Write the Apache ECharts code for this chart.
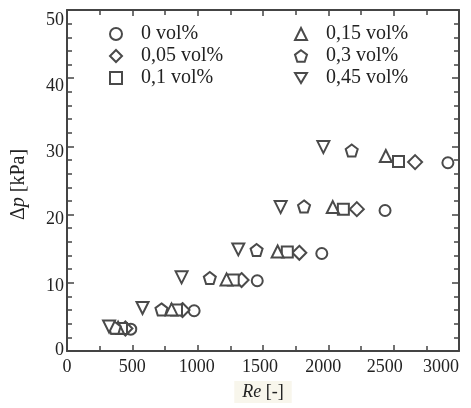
<!DOCTYPE html>
<html>
<head>
<meta charset="utf-8">
<script src="https://cdn.jsdelivr.net/npm/echarts@6/dist/echarts.min.js"></script>
<style>
  html, body { margin: 0; padding: 0; background: #fff; }
  #canvas { width: 471px; height: 408px; }
</style>
</head>
<body>
<div id="canvas"></div>
<script>
// data: Re [-] and Δp [kPa] per concentration
const names = ["0 vol%", "0,05 vol%", "0,1 vol%", "0,15 vol%", "0,3 vol%", "0,45 vol%"];
const re0 = [488, 973, 1456, 1950, 2434, 2915];
const dp0 = [3.2, 5.9, 10.3, 14.3, 20.6, 27.6];
const re005 = [447, 884, 1336, 1778, 2218, 2664];
const dp005 = [3.3, 6.0, 10.4, 14.4, 20.8, 27.7];
const re01 = [417, 838, 1272, 1686, 2115, 2537];
const dp01 = [3.3, 6.0, 10.4, 14.5, 20.8, 27.8];
const re015 = [391, 800, 1221, 1612, 2034, 2440];
const dp015 = [3.4, 6.1, 10.5, 14.6, 21.1, 28.6];
const re03 = [365, 723, 1093, 1451, 1814, 2179];
const dp03 = [3.4, 6.1, 10.7, 14.8, 21.2, 29.4];
const re045 = [322, 578, 877, 1311, 1635, 1962];
const dp045 = [3.6, 6.3, 10.8, 14.9, 21.1, 29.9];

const pentagon = "path://M0,-1 L0.951,-0.309 L0.588,0.809 L-0.588,0.809 L-0.951,-0.309 Z";
const triDown = "path://M-1,-0.8 L1,-0.8 L0,0.9 Z";
const symbols = ["circle", "diamond", "rect", "triangle", pentagon, triDown];
const sizes = [11, 14, 11, 12, 12, 12];
const res = [re0, re005, re01, re015, re03, re045];
const dps = [dp0, dp005, dp01, dp015, dp03, dp045];

const ink = "#444";
const serif = "'Liberation Serif', 'Times New Roman', serif";

// the scanned figure's tick labels sit a little off their ticks
const yShift = { 0: -1, 10: 3, 20: 5, 30: 6, 40: 8, 50: 10 };
const xShift = { 0: 0, 500: 0, 1000: -1, 1500: -3, 2000: -5, 2500: -9, 3000: 0 };

const myChart = window.echarts.init(document.querySelector("#canvas"));

const series = names.map(function (name, i) {
  return {
    name: name,
    type: "scatter",
    symbol: symbols[i],
    symbolSize: sizes[i],
    data: res[i].map(function (x, k) { return [x, dps[i][k]]; }),
    itemStyle: { color: "#fff", borderColor: "#4a4a4a", borderWidth: 2, opacity: 1 }
  };
});

const legendCommon = {
  orient: "vertical",
  itemWidth: 12,
  itemHeight: 12,
  itemGap: 2,
  textStyle: { fontFamily: serif, fontSize: 20, color: "#222", padding: [0, 0, 0, 14] }
};

const tickStyle = { lineStyle: { color: ink, width: 1.5 } };
const labelFont = { fontFamily: serif, fontSize: 18, color: "#222" };

const yRich = {};
Object.keys(yShift).forEach(function (k) {
  const d = yShift[k];
  yRich["y" + k] = Object.assign({ padding: d >= 0 ? [2 * d, 0, 0, 0] : [0, 0, -2 * d, 0] }, labelFont);
});
const xRich = {};
Object.keys(xShift).forEach(function (k) {
  const d = xShift[k];
  xRich["x" + k] = Object.assign({ padding: [0, -2 * d, 0, 0] }, labelFont);
});

myChart.setOption({
  backgroundColor: "#fff",
  animation: false,
  grid: { left: 67, right: 12, top: 10, bottom: 54, containLabel: false },
  legend: [
    Object.assign({ left: 104, top: 19, data: names.slice(0, 3) }, legendCommon),
    Object.assign({ left: 289, top: 19, data: names.slice(3) }, legendCommon)
  ],
  xAxis: [
    {
      type: "value",
      min: 0,
      max: 3000,
      interval: 500,
      name: "{i|Re} [-]",
      nameLocation: "middle",
      nameGap: 30,
      nameTextStyle: {
        fontFamily: serif, fontSize: 18, color: "#222",
        backgroundColor: "#f8f6ec", padding: [2, 8, 2, 8],
        rich: { i: { fontFamily: serif, fontSize: 18, fontStyle: "italic", color: "#222" } }
      },
      axisLine: { show: true, onZero: false, lineStyle: { color: ink, width: 2 } },
      axisTick: Object.assign({ show: true, inside: true, length: 6 }, tickStyle),
      minorTick: { show: true, splitNumber: 2, length: 5, lineStyle: { color: ink, width: 1.5 } },
      splitLine: { show: false },
      axisLabel: Object.assign({
        margin: 7,
        alignMaxLabel: "right",
        rich: xRich,
        formatter: function (v) { return "{x" + v + "|" + v + "}"; }
      }, labelFont)
    },
    {
      type: "value",
      position: "top",
      min: 0,
      max: 3000,
      interval: 500,
      axisLine: { show: true, onZero: false, lineStyle: { color: ink, width: 2 } },
      axisTick: Object.assign({ show: true, inside: true, length: 6 }, tickStyle),
      minorTick: { show: true, splitNumber: 2, length: 5, lineStyle: { color: ink, width: 1.5 } },
      splitLine: { show: false },
      axisLabel: { show: false }
    }
  ],
  yAxis: [
    {
      type: "value",
      min: 0,
      max: 50,
      interval: 10,
      name: "Δ{i|p} [kPa]",
      nameLocation: "middle",
      nameGap: 38,
      nameRotate: 90,
      nameTextStyle: {
        fontFamily: serif, fontSize: 20, color: "#222",
        padding: [0, 8, 0, 0],
        rich: { i: { fontFamily: serif, fontSize: 20, fontStyle: "italic", color: "#222" } }
      },
      axisLine: { show: true, onZero: false, lineStyle: { color: ink, width: 2 } },
      axisTick: Object.assign({ show: true, inside: true, length: 7 }, tickStyle),
      minorTick: { show: true, splitNumber: 5, length: 5, lineStyle: { color: ink, width: 1.5 } },
      splitLine: { show: false },
      axisLabel: Object.assign({
        margin: 3,
        rich: yRich,
        formatter: function (v) { return "{y" + v + "|" + v + "}"; }
      }, labelFont)
    },
    {
      type: "value",
      position: "right",
      min: 0,
      max: 50,
      interval: 10,
      axisLine: { show: true, onZero: false, lineStyle: { color: ink, width: 2 } },
      axisTick: Object.assign({ show: true, inside: true, length: 7 }, tickStyle),
      minorTick: { show: true, splitNumber: 5, length: 5, lineStyle: { color: ink, width: 1.5 } },
      splitLine: { show: false },
      axisLabel: { show: false }
    }
  ],
  series: series
});
</script>
</body>
</html>
